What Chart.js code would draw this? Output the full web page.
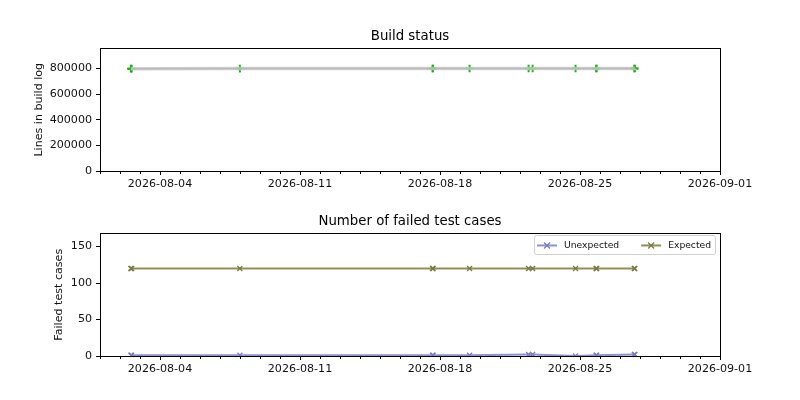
<!DOCTYPE html>
<html>
<head>
<meta charset="utf-8">
<title>Build status</title>
<script src="https://cdn.jsdelivr.net/npm/chart.js@4.4.1/dist/chart.umd.min.js"></script>
<style>
  html, body { margin: 0; padding: 0; background: #fff; }
  .panel { position: absolute; left: 0; width: 800px; height: 200px; }
  #top { top: 0; }
  #bottom { top: 200px; }
</style>
</head>
<body>
<div class="panel" id="top"><canvas id="buildChart" width="800" height="200"></canvas></div>
<div class="panel" id="bottom"><canvas id="testChart" width="800" height="200"></canvas></div>
<script>
// test runs, UTC
const runDates = [
  '2026-08-02T13:00', '2026-08-02T14:00',
  '2026-08-07T23:50',
  '2026-08-17T15:00', '2026-08-17T15:40',
  '2026-08-19T11:30',
  '2026-08-22T10:20', '2026-08-22T15:10',
  '2026-08-24T18:40',
  '2026-08-25T19:20', '2026-08-25T20:00',
  '2026-08-27T17:10', '2026-08-27T17:50'
];
const buildLogLines = [798400, 798600, 798900, 799100, 799100, 799300, 799500, 799500, 799600, 799700, 799700, 799800, 799900];
const unexpectedFails = [1, 1, 1, 1, 1, 1, 2, 2, 0, 1, 1, 2, 2];
const expectedFails = [120, 120, 120, 120, 120, 120, 120, 120, 120, 120, 120, 120, 120];

const xRange = ['2026-08-01', '2026-09-01'];
const dateTicks = ['2026-08-04', '2026-08-11', '2026-08-18', '2026-08-25', '2026-09-01'];
const buildTicks = [0, 200000, 400000, 600000, 800000];
const failTicks = [0, 50, 100, 150];
const buildMax = 956000;
const failMax = 168;

const DAY = 86400000;
const toMs = s => Date.parse(s.length === 10 ? s + 'T00:00Z' : s + 'Z');
const points = vals => vals.map((v, i) => ({ x: toMs(runDates[i]), y: v }));

Chart.defaults.font.family = '"DejaVu Sans", sans-serif';
Chart.defaults.font.size = 11.1;
Chart.defaults.color = '#111';
Chart.defaults.animation = false;

const crisp = v => Math.floor(v) + 0.5;

// box round the plot and daily minor ticks, like the matplotlib axes
const frame = {
  id: 'frame',
  afterDatasetsDraw(chart) {
    const { ctx, chartArea: a } = chart;
    const xs = chart.scales.x;
    ctx.save();
    ctx.strokeStyle = '#000';
    ctx.lineWidth = 1;
    for (let t = xs.min; t <= xs.max; t += DAY) {
      const px = crisp(xs.getPixelForValue(t));
      ctx.beginPath();
      ctx.moveTo(px, crisp(a.bottom));
      ctx.lineTo(px, crisp(a.bottom) + 2.5);
      ctx.stroke();
    }
    const l = crisp(a.left), t = crisp(a.top), r = crisp(a.right), b = crisp(a.bottom);
    ctx.strokeRect(l, t, r - l, b - t);
    ctx.restore();
  }
};

function drawX(ctx, x, y, r, color) {
  ctx.strokeStyle = color;
  ctx.lineWidth = 1.3;
  ctx.beginPath();
  ctx.moveTo(x - r, y - r); ctx.lineTo(x + r, y + r);
  ctx.moveTo(x - r, y + r); ctx.lineTo(x + r, y - r);
  ctx.stroke();
}

// legend inside the axes, top right, two columns
const boxLegend = {
  id: 'boxLegend',
  afterDraw(chart) {
    const { ctx, chartArea: a } = chart;
    const sets = chart.data.datasets;
    ctx.save();
    ctx.font = '9.2px "DejaVu Sans", sans-serif';
    const handle = 20, gap = 7, colGap = 22, padL = 3, padR = 4;
    let w = padL + padR - colGap;
    sets.forEach(d => { w += handle + gap + ctx.measureText(d.label).width + colGap; });
    const h = 19;
    const right = a.right - 5, top = a.top + 2;
    const left = right - w;
    ctx.fillStyle = 'rgba(255,255,255,0.8)';
    ctx.strokeStyle = '#d0d0d0';
    ctx.lineWidth = 1;
    ctx.beginPath();
    ctx.roundRect(crisp(left), crisp(top), w, h, 2);
    ctx.fill();
    ctx.stroke();
    let x = left + padL;
    const cy = top + h / 2 + 0.5;
    sets.forEach(d => {
      ctx.strokeStyle = d.borderColor;
      ctx.lineWidth = d.borderWidth;
      ctx.beginPath();
      ctx.moveTo(x, cy); ctx.lineTo(x + handle, cy);
      ctx.stroke();
      drawX(ctx, x + handle / 2, cy, 3, d.pointBorderColor);
      x += handle + gap;
      ctx.fillStyle = '#111';
      ctx.textBaseline = 'middle';
      ctx.fillText(d.label, x, cy);
      x += ctx.measureText(d.label).width + colGap;
    });
    ctx.restore();
  }
};

function xScale(height) {
  return {
    type: 'linear',
    min: toMs(xRange[0]),
    max: toMs(xRange[1]),
    afterBuildTicks: s => { s.ticks = dateTicks.map(d => ({ value: toMs(d) })); },
    afterFit: s => { s.height = height; },
    grid: { drawOnChartArea: false, drawTicks: true, tickLength: 4, tickColor: '#000' },
    border: { display: false },
    ticks: {
      autoSkip: false, maxRotation: 0, padding: 2,
      callback: v => new Date(v).toISOString().slice(0, 10)
    }
  };
}

function yScale(max, tickVals, title, titlePad) {
  return {
    min: 0,
    max: max,
    afterBuildTicks: s => { s.ticks = tickVals.map(v => ({ value: v })); },
    afterFit: s => { s.width = 100; },
    grid: { drawOnChartArea: false, drawTicks: true, tickLength: 4, tickColor: '#000' },
    border: { display: false },
    ticks: { padding: 4, callback: v => String(v) },
    title: { display: true, text: title, padding: { top: titlePad, bottom: 0 } }
  };
}

function titleOpts(text, padTop) {
  return {
    display: true, text: text, color: '#000', fullSize: false,
    font: { size: 13.3, weight: 'normal' },
    padding: { top: padTop, bottom: 4 }
  };
}

new Chart(document.getElementById('buildChart'), {
  type: 'line',
  data: {
    datasets: [{
      label: 'halo',
      data: points(buildLogLines),
      borderColor: 'rgba(200,200,200,0.8)',
      borderWidth: 3.5,
      pointRadius: 0,
      clip: 0
    }, {
      label: 'Lines in build log',
      data: points(buildLogLines),
      borderColor: '#7f7f7f',
      borderWidth: 1.5,
      pointStyle: 'cross',
      pointRadius: 3.8,
      pointBorderColor: '#1cb01c',
      pointBorderWidth: 2,
      clip: 0
    }]
  },
  options: {
    responsive: false,
    layout: { padding: { left: 0, right: 80, top: 0, bottom: 0 } },
    plugins: {
      legend: { display: false },
      tooltip: { enabled: false },
      title: titleOpts('Build status', 28.5)
    },
    scales: {
      x: xScale(29),
      y: yScale(buildMax, buildTicks, 'Lines in build log', 32)
    }
  },
  plugins: [frame]
});

new Chart(document.getElementById('testChart'), {
  type: 'line',
  data: {
    datasets: [{
      label: 'Unexpected',
      data: points(unexpectedFails),
      borderColor: '#9090d4',
      borderWidth: 2,
      pointStyle: 'crossRot',
      pointRadius: 3.5,
      pointBorderColor: '#7a7ac2',
      pointBorderWidth: 1.3,
      clip: 0
    }, {
      label: 'Expected',
      data: points(expectedFails),
      borderColor: '#8f8f55',
      borderWidth: 2,
      pointStyle: 'crossRot',
      pointRadius: 3.5,
      pointBorderColor: '#7a7a42',
      pointBorderWidth: 1.3,
      clip: 0
    }]
  },
  options: {
    responsive: false,
    layout: { padding: { left: 0, right: 80, top: 0, bottom: 0 } },
    plugins: {
      legend: { display: false },
      tooltip: { enabled: false },
      title: titleOpts('Number of failed test cases', 13.5)
    },
    scales: {
      x: xScale(44),
      y: yScale(failMax, failTicks, 'Failed test cases', 52)
    }
  },
  plugins: [frame, boxLegend]
});
</script>
</body>
</html>
